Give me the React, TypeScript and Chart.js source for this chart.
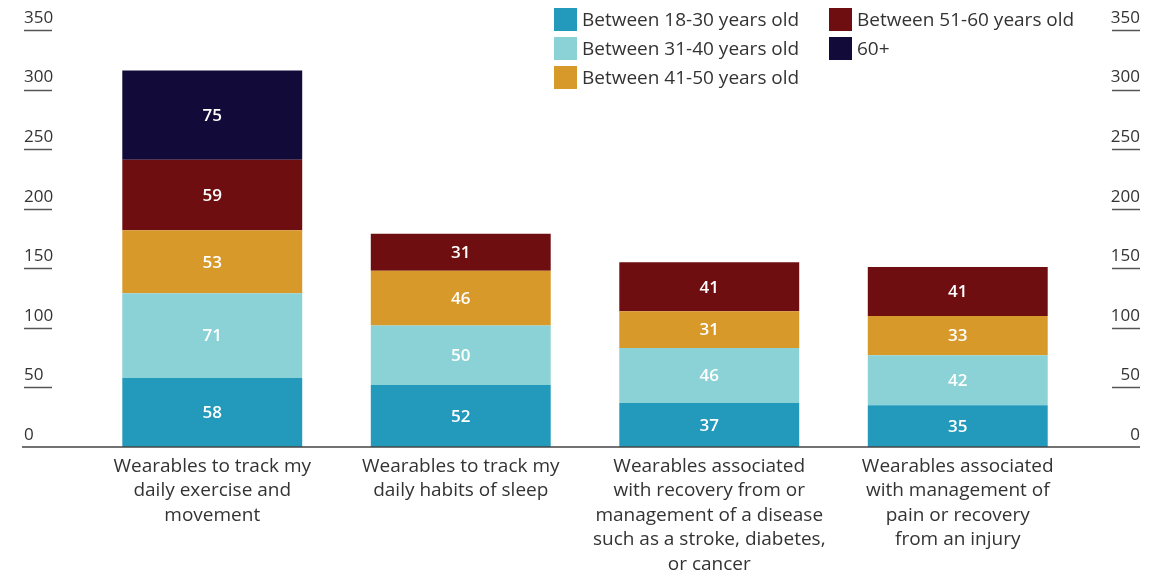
import React, { useEffect, useRef } from "react";
import { Chart, registerables } from "chart.js";

Chart.register(...registerables);

const categories: string[][] = [
  ["Wearables to track my", "daily exercise and", "movement"],
  ["Wearables to track my", "daily habits of sleep"],
  [
    "Wearables associated",
    "with recovery from or",
    "management of a disease",
    "such as a stroke, diabetes,",
    "or cancer",
  ],
  ["Wearables associated", "with management of", "pain or recovery", "from an injury"],
];

const seriesLabels = [
  "Between 18-30 years old",
  "Between 31-40 years old",
  "Between 41-50 years old",
  "Between 51-60 years old",
  "60+",
];

const age18to30 = [58, 52, 37, 35];
const age31to40 = [71, 50, 46, 42];
const age41to50 = [53, 46, 31, 33];
const age51to60 = [59, 31, 41, 41];
const age60plus: (number | null)[] = [75, null, null, null];

const seriesColors = ["#2399bc", "#8bd2d6", "#d8992b", "#6f0e11", "#120a38"];

const yMin = 0;
const yMax = 350;
const yStep = 50;

const FONT = "'Open Sans', 'Noto Sans', sans-serif";
const TEXT_COLOR = "#333333";

const dataLabelPlugin = {
  id: "segmentLabels",
  afterDatasetsDraw(chart: any) {
    const ctx = chart.ctx;
    ctx.save();
    ctx.font = `600 17px ${FONT}`;
    ctx.fillStyle = "#ffffff";
    ctx.textAlign = "center";
    ctx.textBaseline = "middle";
    chart.data.datasets.forEach((ds: any, i: number) => {
      const meta = chart.getDatasetMeta(i);
      meta.data.forEach((el: any, j: number) => {
        const v = ds.data[j];
        if (v === null || v === undefined) return;
        ctx.fillText(String(v), el.x, (el.y + el.base) / 2 + 1);
      });
    });
    ctx.restore();
  },
};

const axisDecorPlugin = {
  id: "axisDecor",
  afterDraw(chart: any) {
    const ctx = chart.ctx;
    const yl = chart.scales.y;
    const yr = chart.scales.y2;
    const ulen = 28;
    ctx.save();
    const y0 = yl.getPixelForValue(0);
    ctx.strokeStyle = "#444444";
    ctx.lineWidth = 1.6;
    ctx.beginPath();
    ctx.moveTo(yl.left - 2, y0);
    ctx.lineTo(yr.right, y0);
    ctx.stroke();
    ctx.strokeStyle = "#555555";
    ctx.lineWidth = 1.5;
    yl.ticks.forEach((t: any) => {
      if (t.value === 0) return;
      const py = Math.round(yl.getPixelForValue(t.value)) + 0.5;
      ctx.beginPath();
      ctx.moveTo(yl.left, py);
      ctx.lineTo(yl.left + ulen, py);
      ctx.stroke();
      ctx.beginPath();
      ctx.moveTo(yr.right - ulen, py);
      ctx.lineTo(yr.right, py);
      ctx.stroke();
    });
    ctx.restore();
  },
};

const gridLegendPlugin = {
  id: "gridLegend",
  afterDraw(chart: any) {
    const ctx = chart.ctx;
    const colX = [554, 829];
    const rowTop = [8, 37, 66];
    const box = 23;
    ctx.save();
    ctx.font = `19px ${FONT}`;
    ctx.textAlign = "left";
    ctx.textBaseline = "middle";
    chart.data.datasets.forEach((ds: any, i: number) => {
      const col = i < 3 ? 0 : 1;
      const row = i < 3 ? i : i - 3;
      const x = colX[col];
      const y = rowTop[row];
      ctx.fillStyle = ds.backgroundColor;
      ctx.fillRect(x, y, box, box);
      ctx.fillStyle = TEXT_COLOR;
      ctx.fillText(ds.label, x + box + 5, y + box / 2 + 1);
    });
    ctx.restore();
  },
};

export default function App() {
  const canvasRef = useRef<HTMLCanvasElement | null>(null);

  useEffect(() => {
    if (!canvasRef.current) return;
    const seriesData = [age18to30, age31to40, age41to50, age51to60, age60plus];
    const chart = new Chart(canvasRef.current, {
      type: "bar",
      data: {
        labels: categories,
        datasets: seriesData.map((d, i) => ({
          label: seriesLabels[i],
          data: d,
          backgroundColor: seriesColors[i],
          borderWidth: 0,
          barPercentage: 0.724,
          categoryPercentage: 1,
        })),
      },
      options: {
        responsive: false,
        animation: false,
        layout: { padding: { left: 24, right: 13, top: 30, bottom: 0 } },
        plugins: {
          legend: { display: false },
          tooltip: { enabled: false },
        },
        scales: {
          x: {
            stacked: true,
            grid: { display: false, drawTicks: false },
            border: { display: false },
            ticks: {
              autoSkip: false,
              maxRotation: 0,
              minRotation: 0,
              padding: 7,
              color: TEXT_COLOR,
              font: { family: FONT, size: 19, lineHeight: 1.29 },
            },
            afterFit: (scale: any) => {
              scale.height = 126;
            },
          },
          y: {
            stacked: true,
            position: "left",
            min: yMin,
            max: yMax,
            grid: { display: false, drawTicks: false },
            border: { display: false },
            ticks: {
              stepSize: yStep,
              crossAlign: "far",
              labelOffset: -12,
              color: TEXT_COLOR,
              font: { family: FONT, size: 17 },
            },
            afterFit: (scale: any) => {
              scale.width = 64;
            },
          },
          y2: {
            position: "right",
            min: yMin,
            max: yMax,
            grid: { display: false, drawTicks: false },
            border: { display: false },
            ticks: {
              stepSize: yStep,
              crossAlign: "far",
              labelOffset: -12,
              color: TEXT_COLOR,
              font: { family: FONT, size: 17 },
            },
            afterFit: (scale: any) => {
              scale.width = 58;
            },
          },
        },
      } as any,
      plugins: [dataLabelPlugin, axisDecorPlugin, gridLegendPlugin],
    });
    return () => chart.destroy();
  }, []);

  return (
    <div style={{ position: "fixed", left: 0, top: 0, width: 1153, height: 573, background: "#fff" }}>
      <canvas ref={canvasRef} width={1153} height={573} />
    </div>
  );
}
